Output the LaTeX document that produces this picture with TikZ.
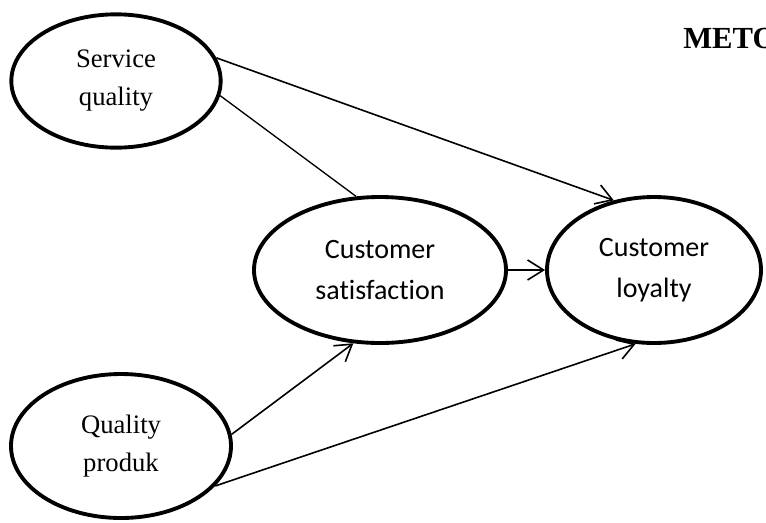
\documentclass[tikz,border=0pt]{standalone}
\usepackage{fontspec}
\setmainfont{Liberation Serif}
\newfontfamily\calibri[Ligatures=NoCommon]{Carlito}
\usetikzlibrary{shapes.geometric,arrows.meta}

\begin{document}
\begin{tikzpicture}[>={Straight Barb[length=12pt,width=15pt]}, x=0.75pt, y=-0.75pt,
  latent/.style={ellipse, draw, line width=2.9pt, inner sep=0pt, align=center},
  serif/.style={font=\fontsize{20}{28.5}\selectfont},
  sans/.style={font=\calibri\fontsize{21}{31}\selectfont},
  link/.style={->, line width=1.2pt}]

\useasboundingbox (0,0) rectangle (766,522);

% Titel oben rechts (abgeschnitten)
\node[anchor=base west, inner sep=0pt, font=\bfseries\fontsize{23}{28}\selectfont] (title) at (683,48) {METO};

% unabhaengige Variablen links
\node[latent, serif, minimum width=157pt, minimum height=100pt] (SQ) at (116,81) {Service\\quality};
\node[latent, serif, minimum width=165pt, minimum height=108pt] (QP) at (121,446) {Quality\\produk};

% Mediator und abhaengige Variable
\node[latent, sans, minimum width=189pt, minimum height=109.5pt] (CS) at (380,270) {Customer\\satisfaction};
\node[latent, sans, minimum width=160.5pt, minimum height=109.5pt] (CL) at (654,270) {Customer\\loyalty};

% Pfade
\draw[link] (SQ.13) -- (CL.120);
\draw[line width=1pt] (SQ.-8) -- (CS.108);
\draw[link] (CS.east) -- (CL.west);
\draw[link] (QP.6) -- (CS.250);
\draw[link] (QP.-23) -- (CL.256);

\end{tikzpicture}
\end{document}
